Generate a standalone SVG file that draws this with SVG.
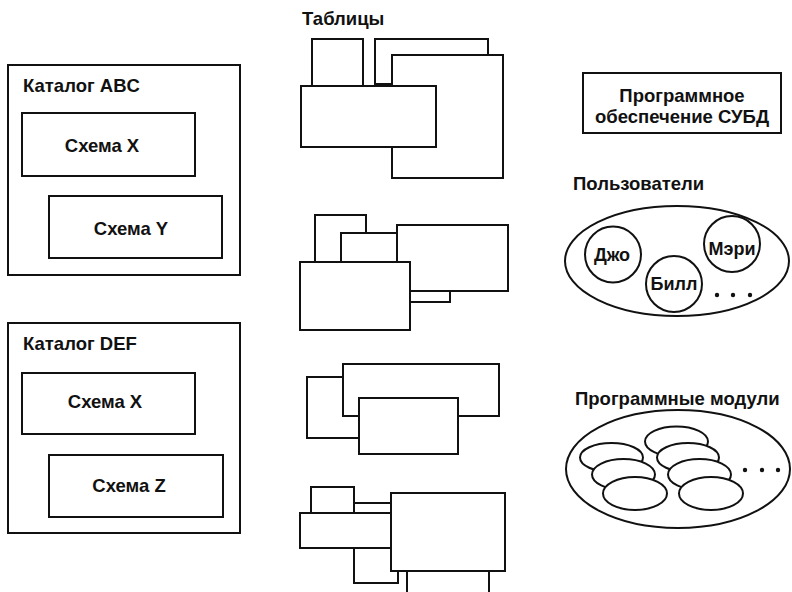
<svg xmlns="http://www.w3.org/2000/svg" width="792" height="592" viewBox="0 0 792 592">
  <style>
    .box { fill: #fff; stroke: #111; stroke-width: 2; }
    .ln { fill: none; stroke: #111; stroke-width: 2; }
    .t { font-family: "Liberation Sans", Arial, sans-serif; font-weight: bold; font-size: 18.5px; fill: #111; }
    .c { text-anchor: middle; }
    .s { font-size: 18px; }
  </style>
  <rect width="792" height="592" fill="#fff"/>

  <!-- Catalog ABC -->
  <g id="catalog-abc">
    <rect class="box" x="8" y="65" width="232" height="210"/>
    <text class="t" x="23" y="92">Каталог ABC</text>
    <rect class="box" x="22" y="113" width="173" height="63"/>
    <text class="t c" x="102" y="152">Схема X</text>
    <rect class="box" x="49" y="196" width="173" height="62"/>
    <text class="t c" x="131" y="235">Схема Y</text>
  </g>

  <!-- Catalog DEF -->
  <g id="catalog-def">
    <rect class="box" x="8" y="323" width="232" height="210"/>
    <text class="t" x="23" y="350">Каталог DEF</text>
    <rect class="box" x="22" y="373" width="173" height="61"/>
    <text class="t c" x="105" y="408">Схема X</text>
    <rect class="box" x="49" y="455" width="174" height="62"/>
    <text class="t c" x="129" y="492">Схема Z</text>
  </g>

  <!-- Tables -->
  <g id="tables">
    <text class="t" x="302" y="25">Таблицы</text>
    <g id="tables-1">
      <rect class="box" x="312" y="39" width="51" height="55"/>
      <rect class="box" x="375" y="39" width="113" height="45"/>
      <rect class="box" x="392" y="55" width="111" height="123"/>
      <rect class="box" x="301" y="86" width="135" height="61"/>
    </g>
    <g id="tables-2">
      <rect class="box" x="315" y="215" width="51" height="55"/>
      <rect class="box" x="341" y="233" width="56" height="40"/>
      <rect class="box" x="380" y="275" width="70" height="27"/>
      <rect class="box" x="397" y="225" width="111" height="66"/>
      <rect class="box" x="300" y="262" width="110" height="68"/>
    </g>
    <g id="tables-3">
      <rect class="box" x="307" y="377" width="52" height="61"/>
      <rect class="box" x="343" y="364" width="156" height="52"/>
      <rect class="box" x="359" y="398" width="99" height="56"/>
    </g>
    <g id="tables-4">
      <rect class="box" x="354" y="503" width="44" height="80"/>
      <rect class="box" x="311" y="487" width="43" height="35"/>
      <rect class="box" x="300" y="513" width="91" height="35"/>
      <rect class="box" x="407" y="550" width="82" height="52"/>
      <rect class="box" x="391" y="493" width="114" height="78"/>
    </g>
  </g>

  <!-- DBMS software -->
  <g id="dbms">
    <rect class="box" x="583" y="73" width="198" height="60"/>
    <text class="t c" x="682" y="102">Программное</text>
    <text class="t c" x="682" y="123">обеспечение СУБД</text>
  </g>

  <!-- Users -->
  <g id="users">
    <text class="t" x="573" y="190">Пользователи</text>
    <ellipse class="box" cx="677" cy="261" rx="112" ry="55"/>
    <circle class="ln" cx="613" cy="254.5" r="28"/>
    <text class="t s c" x="612" y="261">Джо</text>
    <circle class="ln" cx="732" cy="244" r="28"/>
    <text class="t s c" x="732" y="255">Мэри</text>
    <circle class="ln" cx="674" cy="284" r="28"/>
    <text class="t s c" x="674" y="290">Билл</text>
    <circle cx="717" cy="295" r="2.2" fill="#111"/>
    <circle cx="733" cy="295" r="2.2" fill="#111"/>
    <circle cx="750" cy="295" r="2.2" fill="#111"/>
  </g>

  <!-- Program modules -->
  <g id="modules">
    <text class="t" x="575" y="405">Программные модули</text>
    <ellipse class="box" cx="678" cy="469" rx="112" ry="59"/>
    <ellipse class="box" cx="611.5" cy="457.5" rx="31.5" ry="14.5"/>
    <ellipse class="box" cx="623.5" cy="474.5" rx="31.5" ry="15.5"/>
    <ellipse class="box" cx="635" cy="493.5" rx="32" ry="16.5"/>
    <ellipse class="box" cx="676.5" cy="441.5" rx="31.5" ry="15"/>
    <ellipse class="box" cx="688" cy="457.5" rx="31" ry="14.5"/>
    <ellipse class="box" cx="699.5" cy="474.5" rx="31.5" ry="15.5"/>
    <ellipse class="box" cx="711" cy="493.5" rx="32" ry="16.5"/>
    <circle cx="745" cy="470" r="2.2" fill="#111"/>
    <circle cx="762" cy="470" r="2.2" fill="#111"/>
    <circle cx="778" cy="470" r="2.2" fill="#111"/>
  </g>

  <g id="connectors"/>
</svg>
